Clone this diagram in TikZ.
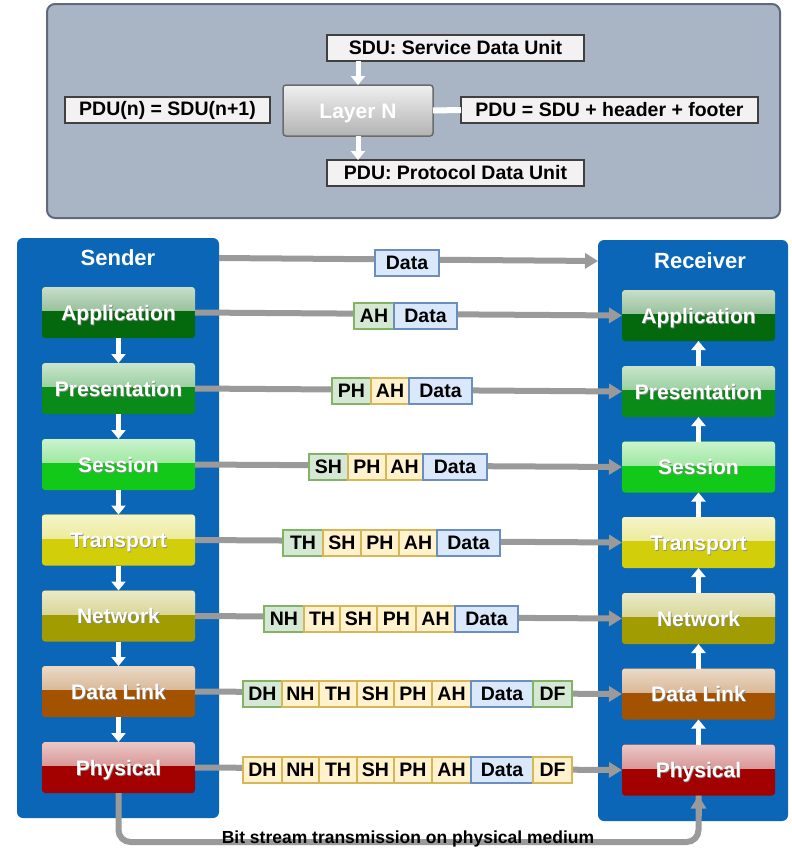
\documentclass[tikz,border=0pt]{standalone}
\usepackage{fontspec}
\setmainfont{Liberation Sans}
\usetikzlibrary{arrows.meta}

\definecolor{toppanel}{HTML}{A9B5C4}
\definecolor{topedge}{HTML}{5F6B7A}
\definecolor{stackblue}{HTML}{0B66B8}
\definecolor{wiregray}{HTML}{9A9A9A}
\definecolor{labelfill}{HTML}{F3F1F1}
\definecolor{labeledge}{HTML}{404040}
\definecolor{cApp}{HTML}{04680C}
\definecolor{cPre}{HTML}{0A8A18}
\definecolor{cSes}{HTML}{12C818}
\definecolor{cTra}{HTML}{D2CE0A}
\definecolor{cNet}{HTML}{A19C02}
\definecolor{cLnk}{HTML}{A35200}
\definecolor{cPhy}{HTML}{A30000}
\definecolor{hdrG}{HTML}{D5E8D4}
\definecolor{hdrGe}{HTML}{82B366}
\definecolor{hdrY}{HTML}{FFF2CC}
\definecolor{hdrYe}{HTML}{D6B656}
\definecolor{datB}{HTML}{DAE8FC}
\definecolor{datBe}{HTML}{6C8EBF}

% white label text with a soft dark drop shadow
\newcommand\shadowed[1]{\makebox[0pt][l]{\hspace{0.7pt}\raisebox{-1pt}{\color{black!45}#1}}#1}

\tikzset{
  panel/.style={rounded corners=6pt, fill=stackblue, draw=none, outer sep=0pt},
  toplabel/.style={draw=labeledge, fill=labelfill, line width=2pt, minimum height=26pt,
    inner sep=0pt, outer sep=0pt, font=\bfseries\fontsize{19.5}{22}\selectfont},
  layerbox/.style={draw=none, rounded corners=3pt, minimum width=153pt, minimum height=51pt,
    inner sep=0pt, outer sep=0pt, text=white, font=\bfseries\fontsize{21}{24}\selectfont,
    text height=15pt, text depth=0pt,
    fill=#1,
    path picture={\fill[sharp corners, top color=#1!22!white, bottom color=#1!62!white]
      (path picture bounding box.north west) rectangle ([yshift=2pt]path picture bounding box.east);}},
  stacktitle/.style={text=white, font=\bfseries\fontsize{22}{24}\selectfont, inner sep=0pt},
  cellbase/.style={minimum height=26pt, inner sep=0pt, outer sep=0pt, anchor=west,
    line width=1.5pt, font=\bfseries\fontsize{19.5}{22}\selectfont},
  hG/.style={cellbase, fill=hdrG, draw=hdrGe},
  hY/.style={cellbase, fill=hdrY, draw=hdrYe},
  dB/.style={cellbase, fill=datB, draw=datBe},
  wire/.style={draw=wiregray, line width=6pt, -{Triangle[length=13pt,width=15pt]}},
  uparrow/.style={draw=white, line width=5pt, -{Triangle[length=9pt,width=14pt]}},
  bus/.style={draw=wiregray, line width=6pt, rounded corners=12pt},
}

% one cell of a packet: name, left x, right x, centre y, style, text
\newcommand\pktcell[6]{%
  \node[#5, minimum width={(#3)-(#2)}] (#1) at (#2,#4) {#6};}

\begin{document}
\begin{tikzpicture}[x=1pt, y=-1pt]
\useasboundingbox (0,0) rectangle (792,849);
\fill[white] (0,0) rectangle (792,849);

% ---------- layer N summary ----------
\node[draw=topedge, fill=toppanel, line width=2pt, rounded corners=8pt,
      minimum width=733pt, minimum height=214pt, outer sep=0pt] (top) at (413.5,111) {};
\node[toplabel, minimum width=257pt] (sdu) at (455.5,48) {SDU: Service Data Unit};
\node[toplabel, minimum width=257pt] (pdu) at (455.5,173) {PDU: Protocol Data Unit};
\node[toplabel, minimum width=205pt] (pdun) at (167.5,110) {PDU(n) = SDU(n+1)};
\node[toplabel, minimum width=297pt] (pdueq) at (609.5,110) {PDU = SDU + header + footer};
\node[draw=black!58, line width=1.5pt, rounded corners=3pt, top color=black!6, bottom color=black!30,
      minimum width=150pt, minimum height=51pt, inner sep=0pt, outer sep=0pt,
      text height=15pt, text depth=0pt,
      text=white, font=\bfseries\fontsize{21}{24}\selectfont] (ln) at (358,110.5) {Layer N};
\draw[uparrow] (ln.north |- sdu.south) -- (ln.north);
\draw[uparrow] (ln.south) -- (ln.south |- pdu.north);
\draw[draw=white, line width=6pt] (ln.east) -- (pdueq.west);

% ---------- sender and receiver stacks ----------
\node[panel, minimum width=202pt, minimum height=580pt] (sP) at (118,528) {};
\node[panel, minimum width=190pt, minimum height=581pt] (rP) at (693,530.5) {};
\node[stacktitle] (sT) at (118,258) {Sender};
\node[stacktitle] (rT) at (700,261) {Receiver};

\node[layerbox=cApp] (sApp) at (118.5,312.5) {\shadowed{Application}};
\node[layerbox=cPre] (sPre) at (118.5,388.5) {\shadowed{Presentation}};
\node[layerbox=cSes] (sSes) at (118.5,464.5) {\shadowed{Session}};
\node[layerbox=cTra] (sTra) at (118.5,540) {\shadowed{Transport}};
\node[layerbox=cNet] (sNet) at (118.5,616) {\shadowed{Network}};
\node[layerbox=cLnk] (sLnk) at (118.5,691.5) {\shadowed{Data Link}};
\node[layerbox=cPhy] (sPhy) at (118.5,767.5) {\shadowed{Physical}};

\node[layerbox=cApp] (rApp) at (698.5,315.5) {\shadowed{Application}};
\node[layerbox=cPre] (rPre) at (698.5,391.5) {\shadowed{Presentation}};
\node[layerbox=cSes] (rSes) at (698.5,467) {\shadowed{Session}};
\node[layerbox=cTra] (rTra) at (698.5,542.5) {\shadowed{Transport}};
\node[layerbox=cNet] (rNet) at (698.5,618.5) {\shadowed{Network}};
\node[layerbox=cLnk] (rLnk) at (698.5,694) {\shadowed{Data Link}};
\node[layerbox=cPhy] (rPhy) at (698.5,770) {\shadowed{Physical}};

% downward flow in the sender, upward flow in the receiver
\foreach \a/\b in {sApp/sPre, sPre/sSes, sSes/sTra, sTra/sNet, sNet/sLnk, sLnk/sPhy}
  \draw[uparrow] (\a.south) -- (\b.north);
\foreach \a/\b in {rPre/rApp, rSes/rPre, rTra/rSes, rNet/rTra, rLnk/rNet, rPhy/rLnk}
  \draw[uparrow] (\a.north) -- (\b.south);

% peer-to-peer links
\draw[wire] (sP.east |- sT) -- (rP.west |- rT);
\draw[wire] (sApp.east) -- (rApp.west);
\draw[wire] (sPre.east) -- (rPre.west);
\draw[wire] (sSes.east) -- (rSes.west);
\draw[wire] (sTra.east) -- (rTra.west);
\draw[wire] (sNet.east) -- (rNet.west);
\draw[wire] (sLnk.east) -- (rLnk.west);
\draw[wire] (sPhy.east) -- (rPhy.west);

% ---------- packets ----------
\pktcell{d0}{375}{439}{263}{dB}{Data}

\pktcell{a1}{354}{394}{316}{hG}{AH}
\pktcell{d1}{394}{457}{316}{dB}{Data}

\pktcell{p2}{332}{371}{391}{hG}{PH}
\pktcell{a2}{371}{409}{391}{hY}{AH}
\pktcell{d2}{409}{472}{391}{dB}{Data}

\pktcell{s3}{309}{348}{467}{hG}{SH}
\pktcell{p3}{348}{386}{467}{hY}{PH}
\pktcell{a3}{386}{423}{467}{hY}{AH}
\pktcell{d3}{423}{487}{467}{dB}{Data}

\pktcell{t4}{283}{323}{543}{hG}{TH}
\pktcell{s4}{323}{361}{543}{hY}{SH}
\pktcell{p4}{361}{399}{543}{hY}{PH}
\pktcell{a4}{399}{437}{543}{hY}{AH}
\pktcell{d4}{437}{500}{543}{dB}{Data}

\pktcell{n5}{264}{304}{619}{hG}{NH}
\pktcell{t5}{304}{340}{619}{hY}{TH}
\pktcell{s5}{340}{377}{619}{hY}{SH}
\pktcell{p5}{377}{416}{619}{hY}{PH}
\pktcell{a5}{416}{455}{619}{hY}{AH}
\pktcell{d5}{455}{518}{619}{dB}{Data}

\pktcell{h6}{243}{282}{694}{hG}{DH}
\pktcell{n6}{282}{319}{694}{hY}{NH}
\pktcell{t6}{319}{357}{694}{hY}{TH}
\pktcell{s6}{357}{394}{694}{hY}{SH}
\pktcell{p6}{394}{432}{694}{hY}{PH}
\pktcell{a6}{432}{471}{694}{hY}{AH}
\pktcell{d6}{471}{533}{694}{dB}{Data}
\pktcell{f6}{533}{572}{694}{hG}{DF}

\pktcell{h7}{243}{282}{770}{hY}{DH}
\pktcell{n7}{282}{319}{770}{hY}{NH}
\pktcell{t7}{319}{357}{770}{hY}{TH}
\pktcell{s7}{357}{394}{770}{hY}{SH}
\pktcell{p7}{394}{432}{770}{hY}{PH}
\pktcell{a7}{432}{471}{770}{hY}{AH}
\pktcell{d7}{471}{533}{770}{dB}{Data}
\pktcell{f7}{533}{572}{770}{hY}{DF}

% ---------- physical medium ----------
\coordinate (busL) at (sPhy.south |- 0,842);
\coordinate (busR) at (rPhy.south |- 0,842);
\draw[bus] (sPhy.south) -- (busL) -- (busR) -- (rPhy.south);
\draw[wire] ([yshift=-20pt]rPhy.south) -- (rPhy.south);
\node[font=\bfseries\fontsize{17.5}{20}\selectfont, inner sep=0pt] (bits) at (408,839)
  {Bit stream transmission on physical medium};
\end{tikzpicture}
\end{document}
